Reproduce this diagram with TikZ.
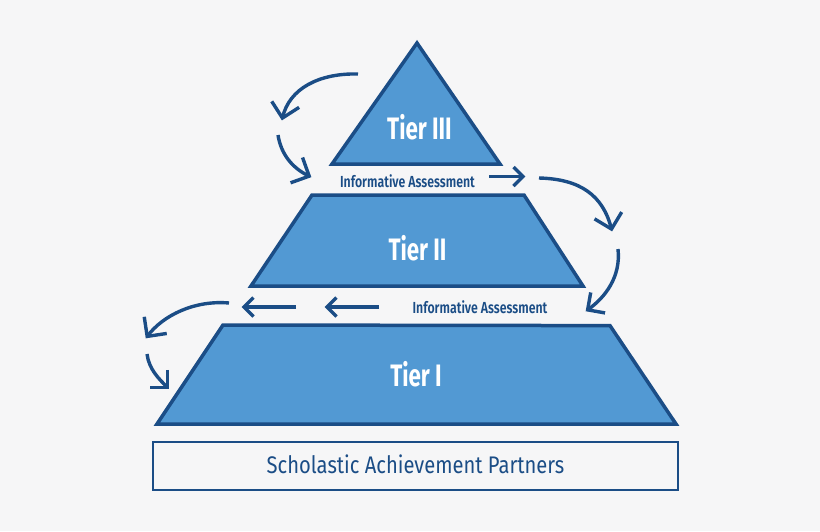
\documentclass[tikz,border=0pt]{standalone}
\usepackage{fontspec}
\setmainfont{Fira Sans}
\newfontfamily\tierfont[FakeStretch=0.72]{Fira Sans Bold}
\newfontfamily\infofont[FakeStretch=0.77]{Fira Sans SemiBold}
\newfontfamily\basefont[FakeStretch=0.84]{Fira Sans}
\usetikzlibrary{arrows.meta}
\pgfdeclarearrow{
  name=VBarb,
  parameters={\the\pgfarrowlength},
  defaults={length=14pt},
  setup code={
    \pgfarrowssettipend{2pt}
    \pgfarrowssetlineend{0pt}
    \pgfarrowssetbackend{-\pgfarrowlength}
    \pgfarrowssetvisualbackend{0pt}
    \pgfarrowssavethe\pgfarrowlength
  },
  drawing code={
    \pgfsetdash{}{0pt}
    \pgfsetmiterjoin
    \pgfsetbuttcap
    \pgfpathmoveto{\pgfpoint{-\pgfarrowlength}{\pgfarrowlength}}
    \pgfpathlineto{\pgfpointorigin}
    \pgfpathlineto{\pgfpoint{-\pgfarrowlength}{-\pgfarrowlength}}
    \pgfusepathqstroke
  }
}
\definecolor{bgc}{HTML}{F6F6F7}
\definecolor{navy}{HTML}{1B4D86}
\definecolor{tierblue}{HTML}{5299D3}
\tikzset{
  tier/.style={draw=navy,fill=tierblue,line width=3.5pt,line join=miter},
  tierlabel/.style={text=white,font=\tierfont\fontsize{31}{33}\selectfont,inner sep=0pt},
  infolabel/.style={text=navy,font=\infofont\fontsize{16}{18}\selectfont,inner sep=0pt},
  baselabel/.style={text=navy,font=\basefont\fontsize{24}{26}\selectfont,inner sep=0pt},
  flow/.style={draw=navy,line width=3.4pt,-{VBarb[length=14pt]}},
  flowmid/.style={draw=navy,line width=3.4pt,-{VBarb[length=12.5pt]}},
  flowshort/.style={draw=navy,line width=3.4pt,-{VBarb[length=9.5pt]}}
}
\begin{document}
\begin{tikzpicture}[x=1pt,y=-1pt]
\useasboundingbox[fill=bgc] (0,0) rectangle (820,531);
% tiers
\draw[tier] (417,43) -- (500,164) -- (332,164) -- cycle;
\draw[tier] (312,195) -- (524,195) -- (583,286) -- (251,286) -- cycle;
\draw[tier] (223,325) -- (610,325.6) -- (676,424) -- (157,424) -- cycle;
\node[draw=navy,line width=2pt,minimum width=525pt,minimum height=48pt,inner sep=0pt,anchor=north west,outer sep=0pt] (base) at (153,442) {};
\node[baselabel] (baset) at (415.5,464.5) {Scholastic Achievement Partners};
\node[tierlabel] (t3) at (419.5,127.5) {Tier III};
\node[tierlabel] (t2) at (417.5,248.5) {Tier II};
\node[tierlabel] (t1) at (416,374.5) {Tier I};
\node[infolabel] (ia1) at (407.5,181.5) {Informative Assessment};
\node[infolabel] (ia2) at (480,307.5) {Informative Assessment};
% connector ends
\coordinate (a1) at (358,74);  \coordinate (a2) at (282,120);
\coordinate (b1) at (278,135); \coordinate (b2) at (311,177);
\coordinate (c1) at (489,176.5); \coordinate (c2) at (525,176.5);
\coordinate (d1) at (539,178); \coordinate (d2) at (612,231);
\coordinate (e1) at (618,249); \coordinate (e2) at (586,311);
\coordinate (f1) at (379,307); \coordinate (f2) at (325,307);
\coordinate (g1) at (296,307); \coordinate (g2) at (242,307);
\coordinate (h1) at (229,303); \coordinate (h2) at (146,338);
\coordinate (i1) at (147,354); \coordinate (i2) at (169,389);
\draw[flow] (a1) .. controls (320,73) and (289,88) .. (a2);
\draw[flow] (b1) .. controls (281,154) and (292,168) .. (b2);
\draw[flowshort] (c1) -- (c2);
\draw[flow] (d1) .. controls (580,179) and (603,195) .. (d2);
\draw[flowmid] (e1) .. controls (621,276) and (606,297) .. (e2);
\draw[flowshort] (f1) -- (f2);
\draw[flowshort] (g1) -- (g2);
\draw[flow] (h1) .. controls (195,300) and (163,315) .. (h2);
\draw[flowmid] (i1) .. controls (149,369) and (158,378) .. (i2);
\end{tikzpicture}
\end{document}
